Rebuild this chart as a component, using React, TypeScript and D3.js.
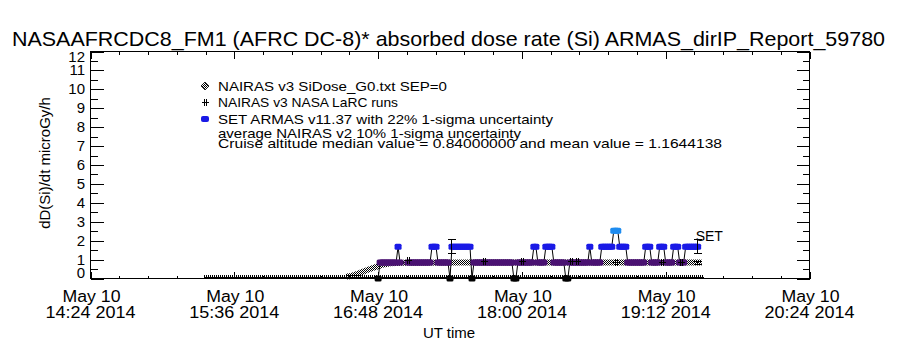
import React from "react";
import * as d3 from "d3";

// ---------- text ----------
const titleText = "NASAAFRCDC8_FM1 (AFRC DC-8)* absorbed dose rate (Si) ARMAS_dirIP_Report_59780";
const yAxisTitle = "dD(Si)/dt microGy/h";
const xAxisTitle = "UT time";
const xTickTimes = ["14:24", "15:36", "16:48", "18:00", "19:12", "20:24"];
const xTickDate = "May 10";
const xTickYear = "2014";
const yTickValues = [0, 1, 2, 3, 4, 5, 6, 7, 8, 9, 10, 11, 12];
const legendLabels = [
  "NAIRAS v3 SiDose_G0.txt SEP=0",
  "NAIRAS v3 NASA LaRC runs",
  "SET ARMAS v11.37 with 22% 1-sigma uncertainty",
];
const noteLines = [
  "average NAIRAS v2 10% 1-sigma uncertainty",
  "Cruise altitude median value = 0.84000000 and mean value = 1.1644138",
];
const setLabel = "SET";

// ---------- data ----------
// NAIRAS v3 SiDose (ground / low level strip)
const groundTimes = ["15:21", "16:34", "19:31"];
const groundDose = [0.12, 0.12, 0.12];

// NAIRAS v3 SiDose climb and cruise
const nairasTimes = ["16:32", "16:34", "16:38", "16:42", "16:46", "16:50", "16:54", "17:00", "17:30", "18:00", "18:30", "19:00", "19:30"];
const nairasDose = [0.1, 0.12, 0.26, 0.42, 0.58, 0.72, 0.8, 0.83, 0.84, 0.84, 0.85, 0.84, 0.84];

// NAIRAS v3 NASA LaRC runs
const larcTimes = ["17:03:00", "17:41:30", "18:00:30", "18:25:00", "18:28:00", "18:47:30", "19:10:30", "19:20:00"];
const larcDose = [0.95, 0.88, 0.88, 0.9, 0.9, 0.86, 0.86, 0.86];

// SET ARMAS, minutes after 16:48
const armasStart = "16:48";
const armasMinutes = [
  0, 1, 2, 3, 4, 5, 6, 7, 8, 9,
  10, 11, 15, 16, 17, 18, 19,
  20, 21, 22, 23, 24, 25, 26, 27, 28, 29,
  30, 31, 32, 33, 34, 35, 36, 37, 38, 39,
  40, 41, 42, 43, 44, 45, 46, 47, 48, 49,
  50, 51, 52, 53, 54, 55, 56, 57, 58, 59,
  60, 61, 62, 63, 64, 65, 66, 67, 68, 69,
  70, 71, 72, 73, 74, 75, 76, 77, 78, 79,
  80, 81, 82, 83, 84, 85, 86, 87, 88, 89,
  90, 91, 92, 93, 94, 95, 96, 97, 98, 99,
  100, 101, 102, 103, 104, 105, 106, 107, 108, 109,
  110, 111, 112, 113, 114, 115, 116, 117, 118, 119,
  120, 121, 122, 123, 124, 125, 126, 127, 128, 129,
  130, 131, 132, 133, 134, 135, 136, 137, 138, 139,
  140, 141, 142, 143, 144, 145, 146, 147, 148, 149,
  150, 151, 152, 153, 154, 155, 156, 157, 158, 159, 160,
];
const armasDose = [
  0, 0.84, 0.84, 0.84, 0.84, 0.84, 0.84, 0.84, 0.84, 0.84,
  1.68, 0.84, 0.84, 0.84, 0.84, 0.84, 0.84,
  0.84, 0.84, 0.84, 0.84, 0.84, 0.84, 0.84, 1.68, 1.68, 1.68,
  0.84, 0.84, 0.84, 0.84, 0.84, 0.84, 0, 1.68, 1.68, 1.68,
  1.68, 1.68, 1.68, 1.68, 1.68, 1.68, 1.68, 0, 0.84, 0.84,
  0.84, 0.84, 0.84, 0.84, 0.84, 0.84, 0.84, 0.84, 0.84, 0.84,
  0.84, 0.84, 0.84, 0.84, 0.84, 0.84, 0.84, 0.84, 0, 0,
  0.84, 0.84, 0.84, 0.84, 0.84, 0.84, 0.84, 0.84, 1.68, 1.68,
  0.84, 0.84, 0.84, 0.84, 1.68, 1.68, 1.68, 1.68, 0.84, 0.84,
  0.84, 0.84, 0.84, 0.84, 0, 0, 0.84, 0.84, 0.84, 0.84,
  0.84, 0.84, 0.84, 0.84, 0.84, 0.84, 1.68, 0.84, 0.84, 0.84,
  0.84, 0.84, 1.68, 1.68, 1.68, 1.68, 1.68, 1.68, 2.52, 2.52,
  2.52, 1.68, 1.68, 1.68, 1.68, 0.84, 0.84, 0.84, 0.84, 0.84,
  0.84, 0.84, 0.84, 0.84, 1.68, 1.68, 1.68, 0.84, 0.84, 0.84,
  0.84, 1.68, 1.68, 1.68, 0.84, 0.84, 0.84, 0.84, 1.68, 1.68,
  1.68, 0.84, 0.84, 0.84, 1.68, 1.68, 1.68, 1.68, 1.68, 1.68, 1.68,
];

// uncertainty bars
const armasErrTimes = ["17:25", "19:28"];
const armasErrDose = [1.68, 1.68];
const armasErrRel = 0.22;
const nairasErrTimes = ["19:28"];
const nairasErrDose = [0.84];
const nairasErrRel = 0.1;

const FONT = "'Liberation Sans', Arial, sans-serif";
const PURPLE = "#4a1272";
const BLUE = "#1a1ae6";
const LIGHTBLUE = "#1e8cf0";

export default function App() {
  const parse = d3.timeParse("%Y-%m-%d %H:%M:%S");
  const t = (s: string) => parse(`2014-05-10 ${s.length === 5 ? s + ":00" : s}`) as Date;

  const left = 90.5, right = 809.5, top = 51.5, bottom = 278.5;
  const x = d3.scaleTime().domain([t(xTickTimes[0]), t(xTickTimes[xTickTimes.length - 1])]).range([left, right]);
  const y = d3.scaleLinear().domain([0, 12]).range([bottom, top]);
  const color = d3.scaleThreshold<number, string>().domain([0.42, 1.26, 2.1]).range(["#000000", PURPLE, BLUE, LIGHTBLUE]);

  const majorX = xTickTimes.map(t);
  const minorX: Date[] = [];
  for (let i = 0; i < majorX.length - 1; i++) {
    const a = majorX[i].getTime(), b = majorX[i + 1].getTime();
    for (let k = 1; k < 5; k++) minorX.push(new Date(a + ((b - a) * k) / 5));
  }
  const minorY = d3.range(0.5, 12, 1);

  const line = d3.line<[Date, number]>().x((d) => x(d[0])).y((d) => y(d[1]));
  const ground: [Date, number][] = groundTimes.map((s, i) => [t(s), groundDose[i]]);
  const nairas: [Date, number][] = nairasTimes.map((s, i) => [t(s), nairasDose[i]]);
  const armas: [Date, number][] = armasMinutes.map((m, i) => [d3.timeMinute.offset(t(armasStart), m), armasDose[i]]);
  const larc: [Date, number][] = larcTimes.map((s, i) => [t(s), larcDose[i]]);

  const plus = (cx: number, cy: number, key: string) => (
    <g key={key} stroke="#000" strokeWidth={1} shapeRendering="crispEdges">
      <line x1={cx - 3.5} x2={cx + 3.5} y1={cy} y2={cy} />
      <line x1={cx - 1} x2={cx - 1} y1={cy - 3.5} y2={cy + 3.5} />
      <line x1={cx + 1} x2={cx + 1} y1={cy - 3.5} y2={cy + 3.5} />
    </g>
  );

  const errBar = (cx: number, v: number, rel: number, key: string) => {
    const y1 = y(v * (1 + rel)), y2 = y(v * (1 - rel));
    return (
      <g key={key} stroke="#000" strokeWidth={1} shapeRendering="crispEdges">
        <line x1={cx} x2={cx} y1={y1} y2={y2} />
        <line x1={cx - 4} x2={cx + 4} y1={y1} y2={y1} />
        <line x1={cx - 4} x2={cx + 4} y1={y2} y2={y2} />
      </g>
    );
  };

  const legendX = 218;
  const legendY = [86, 102, 119];
  const legendW = [229, 180, 335];
  const noteY = [133, 143];
  const noteW = [303, 504];

  return (
    <svg width={900} height={350} style={{ position: "absolute", left: 0, top: 0, background: "#fff" }} fontFamily={FONT}>
      <defs>
        <pattern id="checker" width={2} height={2} patternUnits="userSpaceOnUse">
          <rect x={0} y={0} width={1} height={1} fill="#000" />
          <rect x={1} y={1} width={1} height={1} fill="#000" />
        </pattern>
      </defs>
      <rect x={0} y={0} width={900} height={350} fill="#fff" />

      {/* title */}
      <text x={12} y={46} fontSize={21} textLength={873} lengthAdjust="spacingAndGlyphs">{titleText}</text>

      {/* frame */}
      <rect x={left} y={top} width={right - left} height={bottom - top} fill="none" stroke="#000" strokeWidth={1} shapeRendering="crispEdges" />

      {/* ticks */}
      <g stroke="#000" strokeWidth={1} shapeRendering="crispEdges">
        {yTickValues.map((v) => (
          <g key={"yt" + v}>
            <line x1={left} x2={left + 13} y1={Math.round(y(v)) + 0.5} y2={Math.round(y(v)) + 0.5} />
            <line x1={right - 13} x2={right} y1={Math.round(y(v)) + 0.5} y2={Math.round(y(v)) + 0.5} />
          </g>
        ))}
        {minorY.map((v) => (
          <g key={"ym" + v}>
            <line x1={left} x2={left + 7} y1={Math.round(y(v)) + 0.5} y2={Math.round(y(v)) + 0.5} />
            <line x1={right - 7} x2={right} y1={Math.round(y(v)) + 0.5} y2={Math.round(y(v)) + 0.5} />
          </g>
        ))}
        {majorX.map((d, i) => (
          <g key={"xt" + i}>
            <line x1={Math.round(x(d)) + 0.5} x2={Math.round(x(d)) + 0.5} y1={bottom} y2={bottom - 7} />
            <line x1={Math.round(x(d)) + 0.5} x2={Math.round(x(d)) + 0.5} y1={top} y2={top + 7} />
          </g>
        ))}
        {minorX.map((d, i) => (
          <g key={"xm" + i}>
            <line x1={Math.round(x(d)) + 0.5} x2={Math.round(x(d)) + 0.5} y1={bottom} y2={bottom - 3} />
            <line x1={Math.round(x(d)) + 0.5} x2={Math.round(x(d)) + 0.5} y1={top} y2={top + 3} />
          </g>
        ))}
      </g>

      {/* y tick labels */}
      {yTickValues.map((v) => (
        <text key={"yl" + v} x={85} y={Math.min(Math.max(y(v), top + 5), bottom - 6) + 5} fontSize={15} textAnchor="end">{v}</text>
      ))}

      {/* x tick labels */}
      {majorX.map((d, i) => (
        <g key={"xl" + i}>
          <text x={x(d) + 1} y={302} fontSize={16} textAnchor="middle" textLength={58} lengthAdjust="spacingAndGlyphs">{xTickDate}</text>
          <text x={x(d)} y={318} fontSize={16} textAnchor="middle" textLength={90} lengthAdjust="spacingAndGlyphs">{`${xTickTimes[i]} ${xTickYear}`}</text>
        </g>
      ))}

      {/* axis titles */}
      <text x={449} y={338} fontSize={15} textAnchor="middle">{xAxisTitle}</text>
      <text transform="translate(50,163) rotate(-90)" fontSize={15} textAnchor="middle">{yAxisTitle}</text>

      {/* legend */}
      <polygon points={`205,82 209,86 205,90 201,86`} fill="url(#checker)" stroke="#000" strokeWidth={0.8} />
      {plus(205, 102, "lp")}
      <rect x={201} y={116} width={8} height={6} rx={2} fill={BLUE} />
      {legendLabels.map((s, i) => (
        <text key={"lg" + i} x={legendX} y={legendY[i] + 5} fontSize={13} textLength={legendW[i]} lengthAdjust="spacingAndGlyphs">{s}</text>
      ))}
      {noteLines.map((s, i) => (
        <text key={"nt" + i} x={legendX} y={noteY[i] + 5} fontSize={13} textLength={noteW[i]} lengthAdjust="spacingAndGlyphs">{s}</text>
      ))}

      {/* NAIRAS low strip */}
      <path d={line(ground) || ""} fill="none" stroke="#000" strokeWidth={3} strokeDasharray="1 1" shapeRendering="crispEdges" />
      <path d={line(ground.map((d) => [d[0], 0.06] as [Date, number])) || ""} fill="none" stroke="#000" strokeWidth={1} shapeRendering="crispEdges" />
      {/* NAIRAS SiDose */}
      <path d={line(nairas) || ""} fill="none" stroke="url(#checker)" strokeWidth={6} />

      {/* ARMAS */}
      <path d={line(armas) || ""} fill="none" stroke="#000" strokeWidth={1} />
      {armas.map((d, i) => (
        <rect key={"a" + i} x={x(d[0]) - 3.5} y={y(d[1]) - 3} width={7} height={6} rx={1.5} fill={color(d[1])} />
      ))}

      {/* LaRC runs */}
      {larc.map((d, i) => plus(x(d[0]), y(d[1]), "lr" + i))}

      {/* uncertainties */}
      {armasErrTimes.map((s, i) => errBar(x(t(s)), armasErrDose[i], armasErrRel, "ae" + i))}
      {nairasErrTimes.map((s, i) => errBar(x(t(s)), nairasErrDose[i], nairasErrRel, "ne" + i))}
      <text x={x(t(armasErrTimes[1])) - 2} y={y(armasErrDose[1] * (1 + armasErrRel)) + 1} fontSize={14}>{setLabel}</text>
    </svg>
  );
}
